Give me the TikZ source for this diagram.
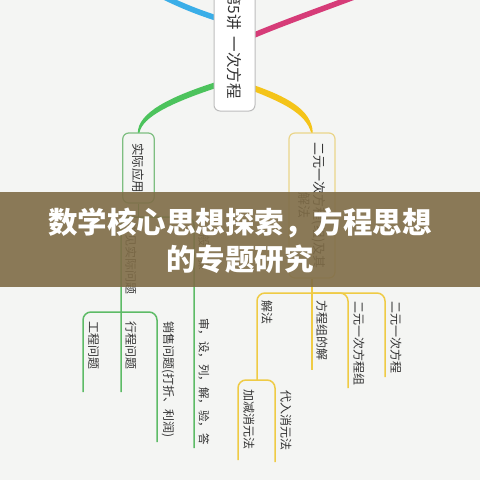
\documentclass[tikz,border=0pt]{standalone}
\usepackage{fontspec}
\setmainfont{Noto Sans CJK SC}
\definecolor{bgcol}{HTML}{F4F5F3}
\definecolor{txt}{HTML}{333333}
\definecolor{cblue}{HTML}{3AAEE8}
\definecolor{cmag}{HTML}{D63C78}
\definecolor{cgreen}{HTML}{4CC35C}
\definecolor{cyellow}{HTML}{F4C419}
\definecolor{gthin}{HTML}{5DBB66}
\definecolor{ythin}{HTML}{EFCB45}
\definecolor{gborder}{HTML}{7DBE80}
\definecolor{yborder}{HTML}{EAD58A}
\definecolor{rborder}{HTML}{BDBDBD}
\definecolor{bannercol}{HTML}{7F6C47}
\tikzset{
  rootbox/.style={rotate=-90, draw=rborder, line width=1pt, fill=white, rounded corners=6pt, inner sep=0pt, text=txt, font=\fontsize{15.5}{18}\selectfont},
  gbox/.style={rotate=-90, draw=gborder, line width=1.2pt, fill=bgcol, rounded corners=6pt, inner sep=0pt, text=txt, font=\fontsize{12.5}{15}\selectfont},
  ybox/.style={rotate=-90, draw=yborder, line width=1.2pt, fill=bgcol, rounded corners=6pt, inner sep=0pt, text=txt, font=\fontsize{13}{15}\selectfont},
  leaf/.style={rotate=-90, anchor=west, inner sep=0pt, text=txt, font=\fontsize{12}{14}\selectfont},
  gline/.style={draw=gthin, line width=1.5pt, rounded corners=8pt},
  yline/.style={draw=ythin, line width=1.5pt, rounded corners=8pt},
  mainline/.style={line width=5.5pt, line cap=butt},
  titletext/.style={text=white, align=center, font=\fontsize{29.5}{37}\selectfont\bfseries}
}
\begin{document}
\begin{tikzpicture}[x=1pt,y=-1pt]
\useasboundingbox (0,0) rectangle (480,480);
\fill[bgcol] (0,0) rectangle (480,480);
\begin{scope}
\clip (0,0) rectangle (480,480);
% main branches
\draw[cblue, mainline] (216,18) .. controls (195,11) and (180,5) .. (158,-6);
\draw[cmag, mainline] (252,36) .. controls (285,22) and (320,10) .. (362,-6);
\fill[cgreen] (216,82) .. controls (169,97) and (137.8,113) .. (137.8,133)
  -- (139.4,133) .. controls (142,117) and (171,103) .. (216,88) -- cycle;
\fill[cyellow] (252,84.5) .. controls (285,96) and (312,109) .. (312.8,133)
  -- (311.2,133) .. controls (306,113) and (281,102) .. (252,90.5) -- cycle;
% nodes
\node[rootbox, minimum width=133pt, minimum height=41pt] (root) at (234.5,44.5) {第5讲\hspace{7pt}一次方程};
\node[gbox, minimum width=70pt, minimum height=31.5pt] (apply) at (138.5,168) {实际应用};
\node[ybox, minimum width=145pt, minimum height=46pt, align=center] (eqs) at (312,205.5) {二元一次方程(组)及其\\解法};
% green subtree
\draw[gline] (apply.east) -- (138.5,217);
\draw[gline] (121,392) -- (121,217) -- (194,217) -- (194,448);
\draw[gline] (83,392) -- (83,312) -- (157,312) -- (157,442);
\node[leaf] (common) at (131,222) {常见实际问题};
\node[leaf] (steps) at (204,222) {一般步骤};
\node[leaf] (gc) at (93.5,321) {工程问题};
\node[leaf] (xc) at (131,321) {行程问题};
\node[leaf] (xs) at (168,321) {销售问题(打折、利润)};
\node[leaf, font=\fontsize{11.5}{14}\selectfont] (sj) at (204,318) {审，设，列，解，验，答};
% yellow subtree
\draw[yline] (eqs.east) -- (312,370);
\draw[yline] (257,380) -- (257,293) -- (385,293) -- (385,377);
\draw[yline] (312,293) -- (348,293) -- (348,388);
\draw[yline] (238,460) -- (238,380) -- (275,380) -- (275,462);
\node[leaf] (jf) at (267,300) {解法};
\node[leaf] (fzj) at (322,300) {方程组的解};
\node[leaf] (eyz) at (359,301) {二元一次方程组};
\node[leaf] (eyc) at (396,301) {二元一次方程};
\node[leaf] (jj) at (249,389) {加减消元法};
\node[leaf] (dr) at (286,390) {代入消元法};
% banner
\fill[bannercol, opacity=0.9] (0,192) rectangle (480,287);
\node[titletext] (title) at (240,240.5) {数学核心思想探索，方程思想\\的专题研究};
\end{scope}
\end{tikzpicture}
\end{document}
